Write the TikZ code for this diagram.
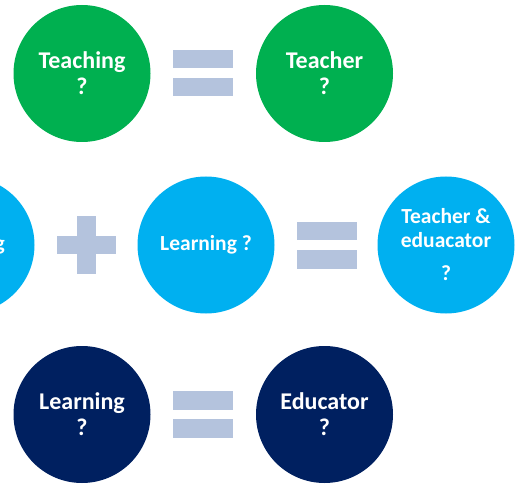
\documentclass[tikz,border=0pt]{standalone}
\usepackage{fontspec}
\setmainfont{Carlito}
\usepackage{tikz}
\usetikzlibrary{positioning}
\definecolor{tgreen}{HTML}{00B050}
\definecolor{lblue}{HTML}{00B0F0}
\definecolor{navy}{HTML}{002060}
\definecolor{barcol}{HTML}{B4C3DD}

\begin{document}
\begin{tikzpicture}[x=1pt,y=-1pt,
		bubble/.style={circle,minimum size=137pt,inner sep=0pt,text=white,align=center,font=\bfseries\fontsize{24}{26}\selectfont},
		smallbubble/.style={bubble,font=\bfseries\fontsize{21.5}{24}\selectfont},
		bar/.style={fill=barcol}]
		\useasboundingbox (0,0) rectangle (520,484);
		% top row
		\node[bubble,fill=tgreen] (teaching) at (82,73.5) {Teaching\\?};
		\node[bubble,fill=tgreen] (teacher) at (324.5,73.5) {Teacher\\?};
		% middle row
		\node[smallbubble,fill=lblue] (teachmid) at (-34,245) {Teaching};
		\node[smallbubble,fill=lblue] (learnmid) at (206,245) {Learning ?};
		\node[smallbubble,fill=lblue] (both) at (446,245) {Teacher \&\\eduacator\\[9pt]?};
		% bottom row
		\node[bubble,fill=navy] (learning) at (82,414.5) {Learning\\?};
		\node[bubble,fill=navy] (educator) at (324.5,414.5) {Educator\\?};
		% signs
		\foreach \x/\y in {173/50,297/222,173/391}
		{
			\fill[bar] (\x,\y) rectangle ++(60,18.5);
			\fill[bar] (\x,\y+28) rectangle ++(60,18.5);
		}
		\fill[bar] (57,236) rectangle (116,254);
		\fill[bar] (77,216) rectangle (96,274);
\end{tikzpicture}
\end{document}
